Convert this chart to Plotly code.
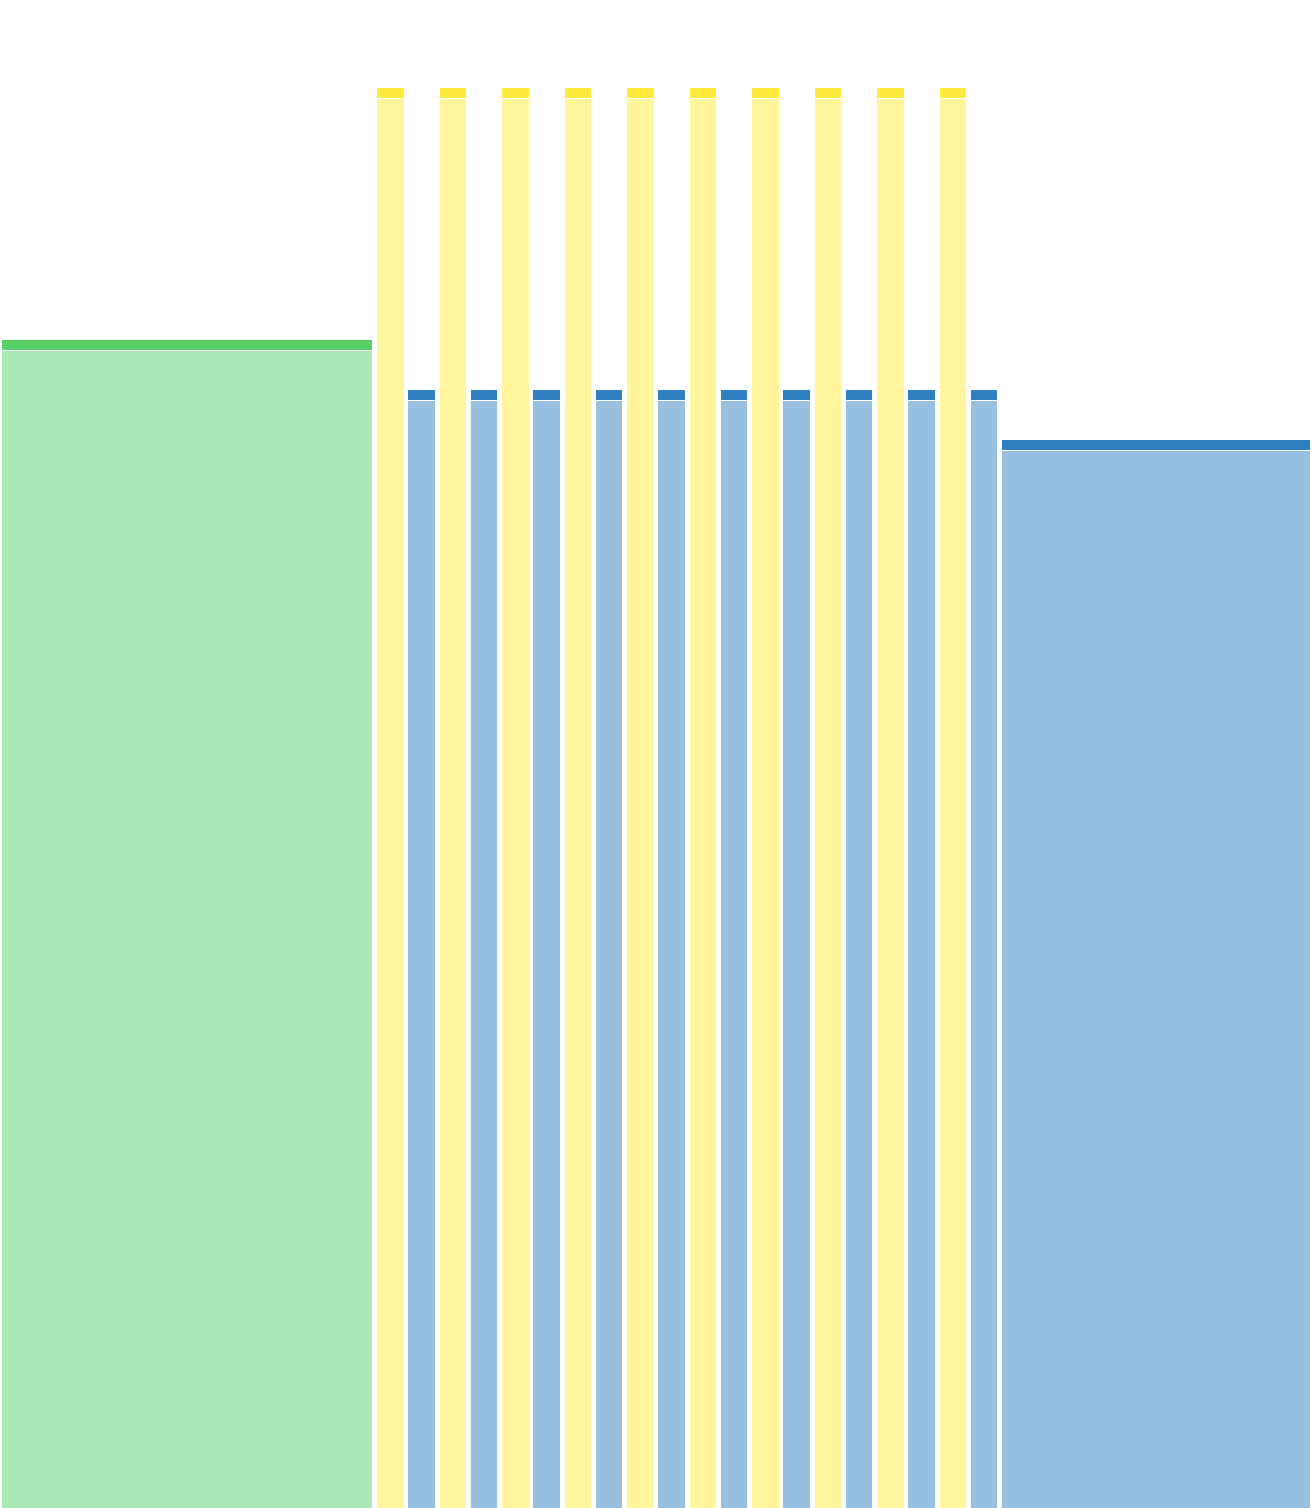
import plotly.graph_objects as go

# bin widths (x units) and values
bin_widths = [12] + [1] * 20 + [10]
groups = ["green"] + ["yellow", "blue"] * 10 + ["blue"]
body_values = [115.8] + [141.0, 110.8] * 10 + [105.8]
cap_values = [1.1] * 22

dark = {"green": "#57cf69", "yellow": "#ffeb3b", "blue": "#2f7fc1"}
light = {"green": "rgba(87,207,105,0.5)", "yellow": "rgba(255,235,59,0.5)",
         "blue": "rgba(47,127,193,0.5)"}

GAP = 0.12

# bar centres from the bin widths
centres = []
left = 0
for w in bin_widths:
    centres.append(left + w / 2)
    left += w
widths = [w - GAP for w in bin_widths]

fig = go.Figure()
fig.add_trace(go.Bar(
    x=centres, y=body_values, width=widths,
    marker=dict(color=[light[g] for g in groups], line=dict(color="white", width=1)),
    hoverinfo="y", showlegend=False,
))
fig.add_trace(go.Bar(
    x=centres, y=cap_values, width=widths,
    marker=dict(color=[dark[g] for g in groups], line=dict(color="white", width=1)),
    hoverinfo="skip", showlegend=False,
))

fig.update_layout(
    barmode="stack",
    width=1312, height=1508,
    margin=dict(l=0, r=0, t=0, b=0),
    paper_bgcolor="white", plot_bgcolor="white",
    xaxis=dict(range=[0, left], visible=False),
    yaxis=dict(range=[0, 150.8], visible=False),
)

# drop the default page margin so the figure sits at the window's corner
fig.write_html("out.html", config={"displayModeBar": False},
               post_script="document.body.style.margin='0';document.body.style.overflow='hidden';")
